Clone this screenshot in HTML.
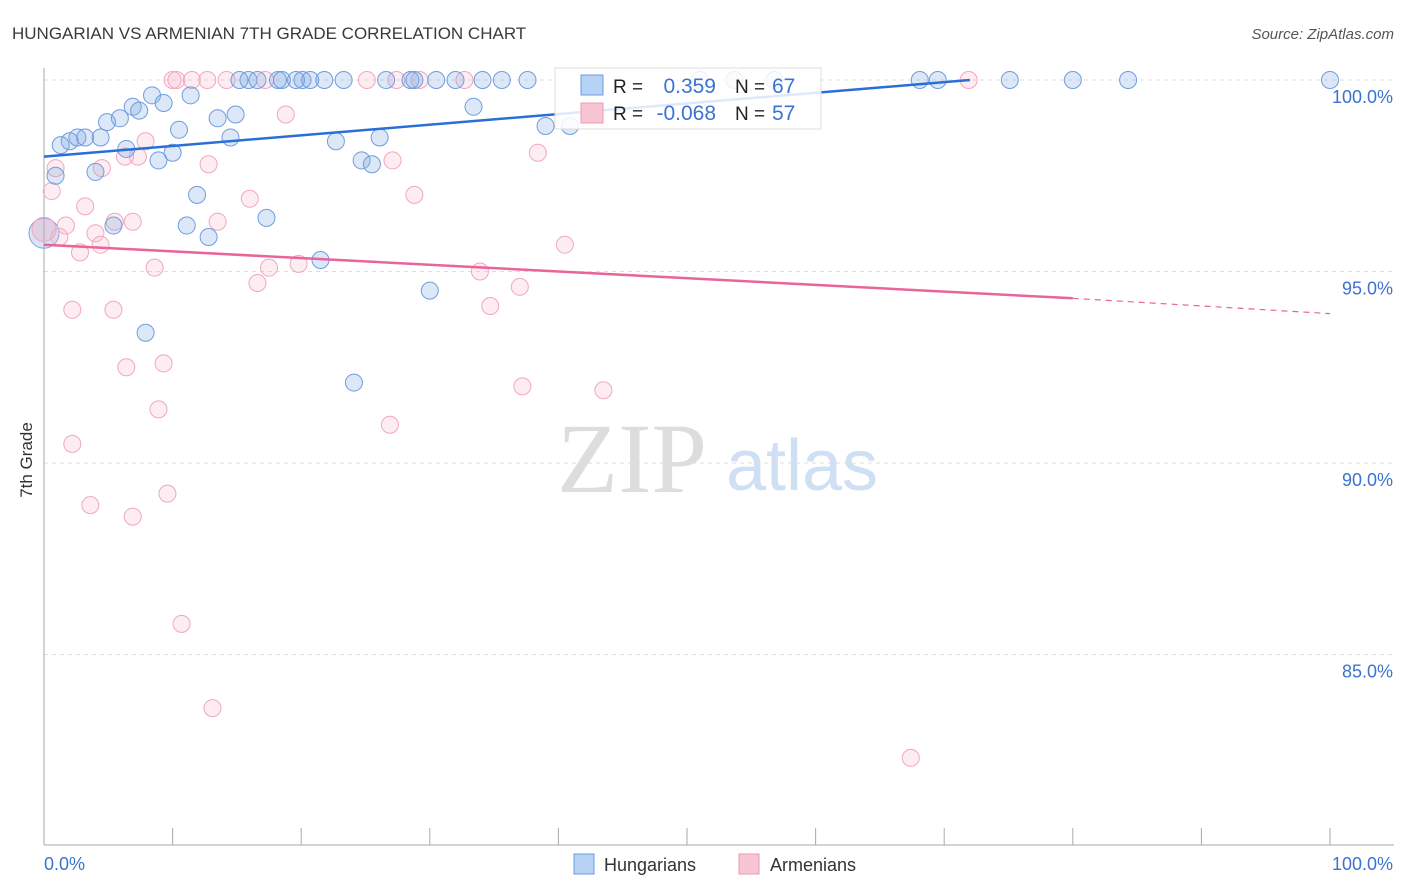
<!DOCTYPE html>
<html><head><meta charset="utf-8"><style>
body{margin:0;background:#fff;font-family:"Liberation Sans",sans-serif}
svg{display:block}
</style></head><body>
<svg id="c" width="1406" height="892" xmlns="http://www.w3.org/2000/svg">
<text x="12" y="39" font-size="17" fill="#3a3a3a">HUNGARIAN VS ARMENIAN 7TH GRADE CORRELATION CHART</text>
<text x="1394" y="39" font-size="15" fill="#555" font-style="italic" text-anchor="end">Source: ZipAtlas.com</text>
<text x="32" y="460" font-size="17" fill="#333" transform="rotate(-90 32 460)" text-anchor="middle">7th Grade</text>
<g><text x="632" y="492" font-size="100" fill="#ddd" font-family="Liberation Serif,serif" text-anchor="middle">ZIP</text><text x="802" y="490" font-size="72" fill="#cfe0f4" text-anchor="middle">atlas</text></g>
<g id="grid"></g><g id="axes"></g><g id="pts"></g><g id="lines"></g>
<g>
<rect x="555" y="68" width="266" height="61" fill="#fff" fill-opacity="0.85" stroke="#ddd"/>
<rect x="581" y="75" width="22" height="20" fill="#b6d2f5" stroke="#6a9be0"/>
<rect x="581" y="103" width="22" height="20" fill="#f8c5d3" stroke="#ec9ab2"/>
<text x="613" y="93" font-size="19" fill="#222">R = </text><text x="716" y="93" font-size="21" fill="#3a74d0" text-anchor="end">0.359</text>
<text x="735" y="93" font-size="19" fill="#222">N = </text><text x="772" y="93" font-size="21" fill="#3a74d0">67</text>
<text x="613" y="120" font-size="19" fill="#222">R = </text><text x="716" y="120" font-size="21" fill="#3a74d0" text-anchor="end">-0.068</text>
<text x="735" y="120" font-size="19" fill="#222">N = </text><text x="772" y="120" font-size="21" fill="#3a74d0">57</text>
</g>
<g>
<rect x="574" y="854" width="20" height="20" fill="#b6d2f5" stroke="#6a9be0"/>
<text x="604" y="871" font-size="18" fill="#333">Hungarians</text>
<rect x="739" y="854" width="20" height="20" fill="#f8c5d3" stroke="#ec9ab2"/>
<text x="770" y="871" font-size="18" fill="#333">Armenians</text>
</g>
</svg>
<script>
const yTicks=[100,95,90,85];
const yTickLabels=["100.0%","95.0%","90.0%","85.0%"];
const xTickLabels=["0.0%","100.0%"];
const blueX=[15.2,15.9,16.6,18.2,18.5,19.6,20.1,20.7,21.8,23.3,26.6,28.5,28.8,30.5,32.0,34.1,35.6,37.6,51.0,53.7,56.8,68.1,69.5,75.1,80.0,84.3,100,
0.9,1.3,2.0,2.6,3.2,4.4,4.9,5.9,6.9,7.4,8.4,9.3,11.4,10.5,10.0,8.9,6.4,4.0,13.5,14.5,14.9,11.9,11.1,12.8,17.3,5.4,21.5,22.7,24.7,25.5,26.1,33.4,39.0,40.9,30.0,7.9,24.1];
const blueY=[100,100,100,100,100,100,100,100,100,100,100,100,100,100,100,100,100,100,100,100,100,100,100,100,100,100,100,
97.5,98.3,98.4,98.5,98.5,98.5,98.9,99.0,99.3,99.2,99.6,99.4,99.6,98.7,98.1,97.9,98.2,97.6,99.0,98.5,99.1,97.0,96.2,95.9,96.4,96.2,95.3,98.4,97.9,97.8,98.5,99.3,98.8,98.8,94.5,93.4,92.1];
const pinkX=[10.0,10.3,11.5,12.7,14.2,17.2,25.1,27.4,29.2,32.7,71.9,
0.9,0.6,1.2,1.7,2.2,3.2,4.0,4.4,2.8,4.5,5.4,5.5,6.4,6.9,7.3,7.9,8.6,8.9,9.3,9.6,10.7,12.8,13.1,13.5,16.0,16.6,17.5,18.8,19.8,26.9,27.1,28.8,33.9,34.7,37.0,37.2,38.4,40.5,43.5,2.2,3.6,6.9,67.4,6.3];
const pinkY=[100,100,100,100,100,100,100,100,100,100,100,
97.7,97.1,95.9,96.2,94.0,96.7,96.0,95.7,95.5,97.7,94.0,96.3,92.5,96.3,98.0,98.4,95.1,91.4,92.6,89.2,85.8,97.8,83.6,96.3,96.9,94.7,95.1,99.1,95.2,91.0,97.9,97.0,95.0,94.1,94.6,92.0,98.1,95.7,91.9,90.5,88.9,88.6,82.3,98.0];
const bigBlue=[0,96.0], bigPink=[0,96.1];
const blueFit=[[0,98.0],[72,100]];
const pinkFit=[[0,95.7],[80,94.3],[100,93.9]];
const NS="http://www.w3.org/2000/svg";
const X=v=>44+v*12.86, Y=v=>80+(100-v)*38.3;
function mk(t,a,p){const e=document.createElementNS(NS,t);for(const k in a)e.setAttribute(k,a[k]);p.appendChild(e);return e;}
const grid=document.getElementById('grid'),axes=document.getElementById('axes'),pts=document.getElementById('pts'),lines=document.getElementById('lines');
yTicks.forEach((t,i)=>{const l=mk('line',{x1:44,x2:1394,y1:Y(t),y2:Y(t),stroke:'#ddd','stroke-dasharray':'4,4'},grid);


const tx=mk('text',{x:1393,y:Y(t)+23,'font-size':18,fill:'#3a74d0','text-anchor':'end'},axes);tx.textContent=yTickLabels[i];

});
mk('line',{x1:44,x2:44,y1:68,y2:845,stroke:'#aaa'},axes);
mk('line',{x1:44,x2:1394,y1:845,y2:845,stroke:'#aaa'},axes);
for(let i=0;i<=10;i++){const t=mk('line',{x1:X(i*10),x2:X(i*10),y1:828,y2:845,stroke:'#aaa'},axes);

}
const xl0=mk('text',{x:44,y:870,'font-size':18,fill:'#3a74d0'},axes);xl0.textContent=xTickLabels[0];


const xl1=mk('text',{x:1393,y:870,'font-size':18,fill:'#3a74d0','text-anchor':'end'},axes);xl1.textContent=xTickLabels[1];


function dot(x,y,r,f,s,name){const c=mk('circle',{cx:X(x),cy:Y(y),r:r,fill:f,stroke:s,'stroke-width':1},pts);

}
dot(bigBlue[0],bigBlue[1],15,'rgba(130,170,225,0.3)','#7aa5e0','hungarian-point');
dot(bigPink[0],bigPink[1],12,'rgba(240,160,185,0.3)','#f0a8bd','armenian-point');
pinkX.forEach((x,i)=>dot(x,pinkY[i],8.5,'rgba(248,185,205,0.25)','#f0a8bd','armenian-point'));
blueX.forEach((x,i)=>dot(x,blueY[i],8.5,'rgba(130,170,225,0.28)','#6f9de0','hungarian-point'));
const bl=mk('line',{x1:X(blueFit[0][0]),y1:Y(blueFit[0][1]),x2:X(blueFit[1][0]),y2:Y(blueFit[1][1]),stroke:'#2a6fd6','stroke-width':2.5},lines);


const pl=mk('line',{x1:X(pinkFit[0][0]),y1:Y(pinkFit[0][1]),x2:X(pinkFit[1][0]),y2:Y(pinkFit[1][1]),stroke:'#e8649a','stroke-width':2.5},lines);


const pd=mk('line',{x1:X(pinkFit[1][0]),y1:Y(pinkFit[1][1]),x2:X(pinkFit[2][0]),y2:Y(pinkFit[2][1]),stroke:'#e8649a','stroke-width':1.2,'stroke-dasharray':'6,5'},lines);


</script>
</body></html>
